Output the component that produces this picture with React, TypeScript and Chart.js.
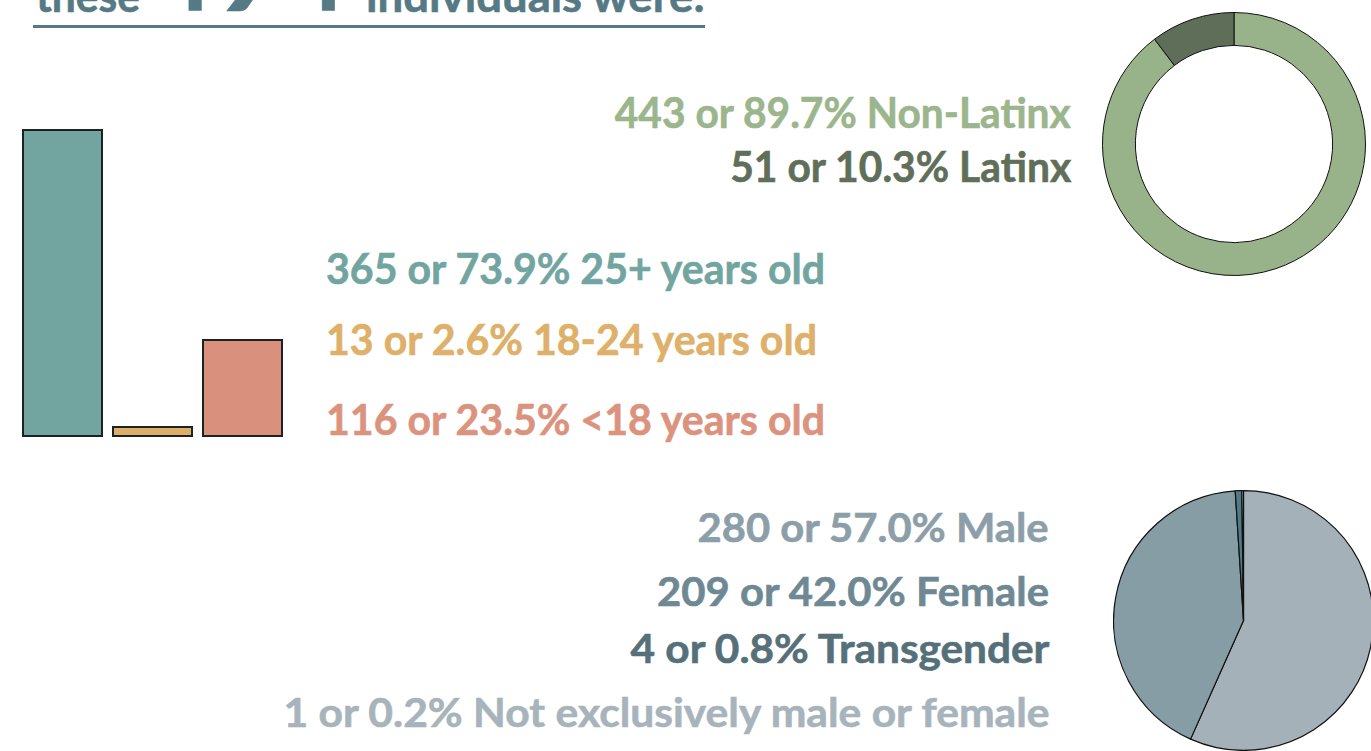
import React, { useEffect, useLayoutEffect, useRef } from "react";
import { Chart, registerables } from "chart.js";

Chart.register(...registerables);

// ---------- data ----------
const totalIndividuals = 494;

const ageCategories = ["25+ years old", "18-24 years old", "<18 years old"];
const ageCounts = [365, 13, 116];
const agePercents = [73.9, 2.6, 23.5];
const ageColors = ["#72A5A0", "#DCAE68", "#D9917D"];
const ageTextColors = ["#72A5A0", "#DEB069", "#DB937E"];

const ethnicityCategories = ["Non-Latinx", "Latinx"];
const ethnicityCounts = [443, 51];
const ethnicityPercents = [89.7, 10.3];
const ethnicityColors = ["#98B28A", "#5E6E59"];
const ethnicityTextColors = ["#9BB58D", "#5F6F59"];

const genderCategories = ["Male", "Female", "Transgender", "Not exclusively male or female"];
const genderCounts = [280, 209, 4, 1];
const genderPercents = [57.0, 42.0, 0.8, 0.2];
const genderColors = ["#A4B1B9", "#879DA6", "#4E7C88", "#C9D1D6"];
const genderTextColors = ["#8C9FA9", "#6F8994", "#56707A", "#A7B4BB"];

const headerColor = "#557A85";
const FONT = "Lato, 'Open Sans', sans-serif";
const W = 1371;

const label = (count: number, pct: number, cat: string) => `${count} or ${pct.toFixed(1)}% ${cat}`;

// ---------- text helper ----------
type FitProps = {
  text: string;
  color: string;
  size: number;
  baseline: number;
  left?: number;
  right?: number;
  width?: number;
  stroke?: number;
};

function FitText({ text, color, size, baseline, left, right, width, stroke = 0.6 }: FitProps) {
  const ref = useRef<HTMLDivElement>(null);
  useLayoutEffect(() => {
    const fit = () => {
      const el = ref.current;
      if (!el || !width) return;
      el.style.transform = "none";
      const w = el.getBoundingClientRect().width;
      if (w > 0) el.style.transform = `scaleX(${width / w})`;
    };
    fit();
    if ((document as any).fonts && (document as any).fonts.ready) {
      (document as any).fonts.ready.then(fit);
    }
  });
  const style: React.CSSProperties = {
    position: "absolute",
    top: baseline - 0.887 * size,
    fontFamily: FONT,
    fontWeight: 700,
    fontSize: size,
    lineHeight: 1,
    color,
    whiteSpace: "nowrap",
    transformOrigin: right != null ? "right center" : "left center",
    WebkitTextStroke: `${stroke}px ${color}`,
  };
  if (right != null) style.right = W - right;
  else style.left = left;
  return (
    <div ref={ref} style={style}>
      {text}
    </div>
  );
}

// ---------- charts ----------
function AgeBars() {
  const ref = useRef<HTMLCanvasElement>(null);
  useEffect(() => {
    if (!ref.current) return;
    const chart = new Chart(ref.current, {
      type: "bar",
      data: {
        labels: ageCategories,
        datasets: [
          {
            data: ageCounts,
            backgroundColor: ageColors,
            borderColor: "#1C2222",
            borderWidth: 2,
            borderSkipped: false,
            barPercentage: 0.9,
            categoryPercentage: 1,
            clip: false as any,
          },
        ],
      },
      options: {
        responsive: false,
        animation: false,
        events: [],
        layout: { padding: { left: 5.5, right: 5.5, top: 10, bottom: 2 } },
        plugins: { legend: { display: false }, tooltip: { enabled: false } },
        scales: {
          x: { display: false },
          y: { display: false, min: 0, max: 365 },
        },
      },
    });
    return () => chart.destroy();
  }, []);
  return (
    <canvas
      ref={ref}
      width={281}
      height={320}
      style={{ position: "absolute", left: 12, top: 119, width: 281, height: 320 }}
    />
  );
}

function EthnicityDonut() {
  const ref = useRef<HTMLCanvasElement>(null);
  useEffect(() => {
    if (!ref.current) return;
    const chart = new Chart(ref.current, {
      type: "doughnut",
      data: {
        labels: ethnicityCategories,
        datasets: [
          {
            data: ethnicityCounts,
            backgroundColor: ethnicityColors,
            borderColor: "#111111",
            borderWidth: 1,
          },
        ],
      },
      options: {
        responsive: false,
        animation: false,
        events: [],
        cutout: "75%",
        plugins: { legend: { display: false }, tooltip: { enabled: false } },
      },
    });
    return () => chart.destroy();
  }, []);
  return (
    <canvas
      ref={ref}
      width={264}
      height={264}
      style={{ position: "absolute", left: 1102, top: 12, width: 264, height: 264 }}
    />
  );
}

function GenderPie() {
  const ref = useRef<HTMLCanvasElement>(null);
  useEffect(() => {
    if (!ref.current) return;
    const chart = new Chart(ref.current, {
      type: "pie",
      data: {
        labels: genderCategories,
        datasets: [
          {
            data: genderCounts,
            backgroundColor: genderColors,
            borderColor: "#111111",
            borderWidth: 1.2,
          },
        ],
      },
      options: {
        responsive: false,
        animation: false,
        events: [],
        plugins: { legend: { display: false }, tooltip: { enabled: false } },
      },
    });
    return () => chart.destroy();
  }, []);
  return (
    <canvas
      ref={ref}
      width={261}
      height={261}
      style={{ position: "absolute", left: 1113, top: 490, width: 261, height: 261 }}
    />
  );
}

// ---------- layout ----------
const ethnicityLayout = [
  { baseline: 128, right: 1071, width: 456 },
  { baseline: 182, right: 1071, width: 341 },
];
const ageLayout = [
  { baseline: 284, left: 326, width: 499 },
  { baseline: 355, left: 326, width: 491 },
  { baseline: 435, left: 326, width: 499 },
];
const genderLayout = [
  { baseline: 542, right: 1049, width: 351 },
  { baseline: 606, right: 1049, width: 392 },
  { baseline: 663, right: 1049, width: 419 },
  { baseline: 727, right: 1049, width: 766 },
];

export default function App() {
  return (
    <div
      style={{
        position: "fixed",
        left: 0,
        top: 0,
        width: W,
        height: 751,
        overflow: "hidden",
        background: "#ffffff",
      }}
    >
      {/* header (mostly above the visible area) */}
      <FitText text="these" color={headerColor} size={44} baseline={12} left={36} width={104} />
      <FitText text={String(totalIndividuals)} color={headerColor} size={116} baseline={12} left={148} width={200} />
      <FitText text="individuals were:" color={headerColor} size={44} baseline={12} left={366} width={339} />
      <div
        style={{
          position: "absolute",
          left: 33,
          top: 25,
          width: 672,
          height: 3,
          background: headerColor,
        }}
      />

      <AgeBars />
      <EthnicityDonut />
      <GenderPie />

      {ethnicityCategories.map((c, i) => (
        <FitText
          key={c}
          text={label(ethnicityCounts[i], ethnicityPercents[i], c)}
          color={ethnicityTextColors[i]}
          size={42}
          {...ethnicityLayout[i]}
        />
      ))}
      {ageCategories.map((c, i) => (
        <FitText
          key={c}
          text={label(ageCounts[i], agePercents[i], c)}
          color={ageTextColors[i]}
          size={42}
          {...ageLayout[i]}
        />
      ))}
      {genderCategories.map((c, i) => (
        <FitText
          key={c}
          text={label(genderCounts[i], genderPercents[i], c)}
          color={genderTextColors[i]}
          size={40}
          {...genderLayout[i]}
        />
      ))}
    </div>
  );
}
